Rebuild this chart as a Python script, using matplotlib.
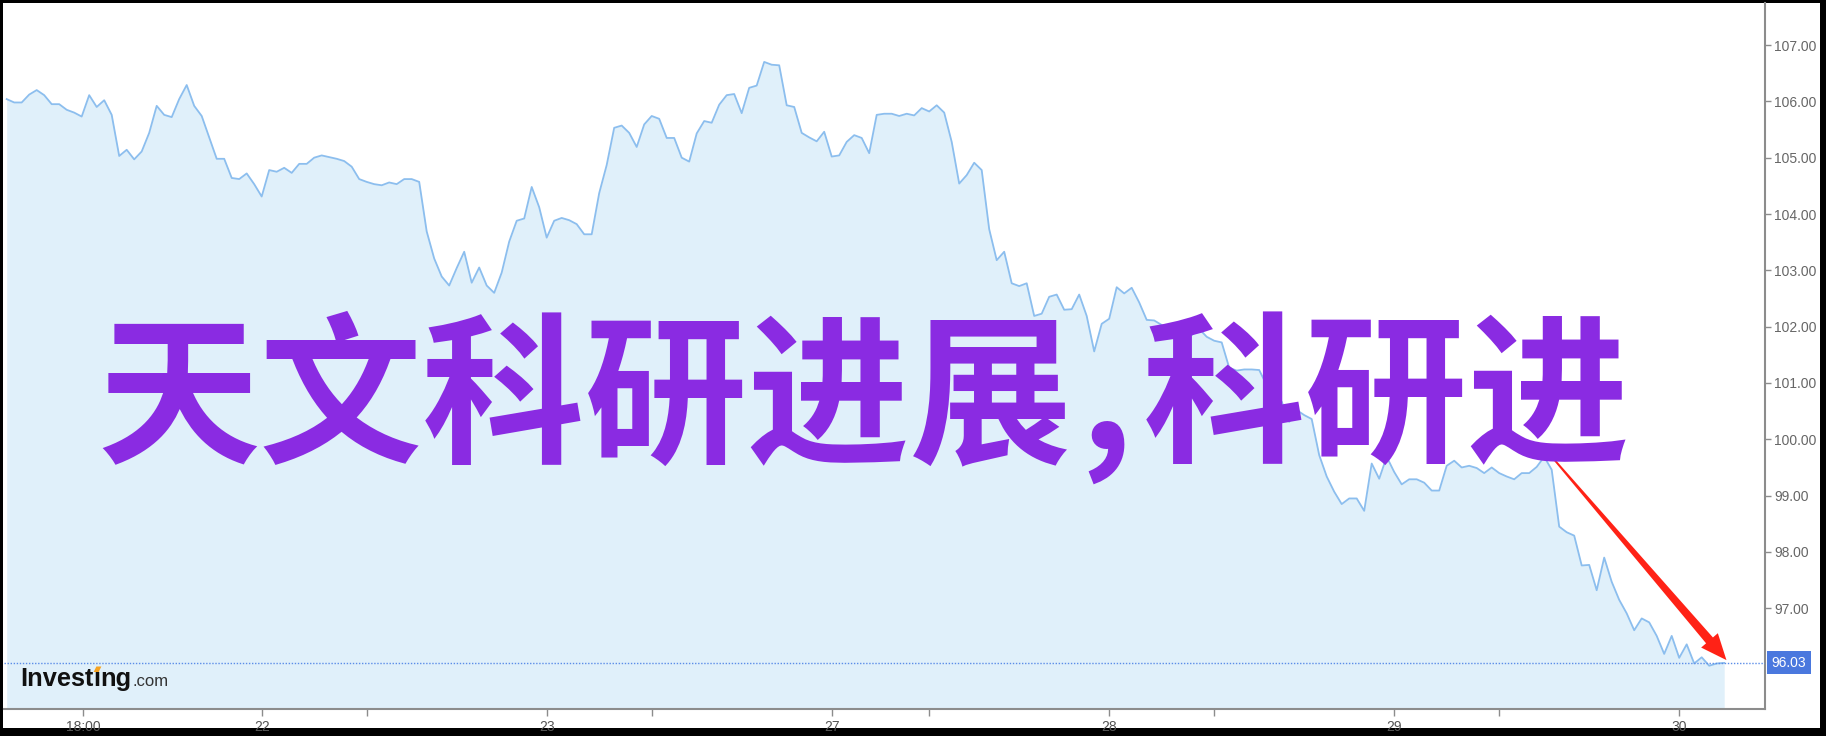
import matplotlib
matplotlib.use("Agg")
import matplotlib.pyplot as plt
import numpy as np
from matplotlib.patches import Rectangle, Polygon
from matplotlib.transforms import blended_transform_factory, IdentityTransform

# ---------------- data ----------------
prices = [
    106.04, 105.98, 105.98, 106.12, 106.20, 106.11, 105.95, 105.95, 105.85, 105.80,
    105.73, 106.11, 105.90, 106.02, 105.76, 105.03, 105.14, 104.97, 105.11, 105.44,
    105.92, 105.76, 105.72, 106.04, 106.29, 105.92, 105.74, 105.36, 104.98, 104.98,
    104.64, 104.62, 104.72, 104.53, 104.31, 104.78, 104.75, 104.82, 104.73, 104.89,
    104.89, 105.00, 105.04, 105.01, 104.98, 104.94, 104.84, 104.62, 104.57, 104.53,
    104.51, 104.56, 104.53, 104.62, 104.62, 104.57, 103.69, 103.21, 102.89, 102.73,
    103.04, 103.33, 102.78, 103.05, 102.73, 102.60, 102.96, 103.51, 103.88, 103.92,
    104.48, 104.12, 103.58, 103.88, 103.93, 103.89, 103.82, 103.64, 103.64, 104.37,
    104.87, 105.53, 105.57, 105.44, 105.19, 105.59, 105.74, 105.69, 105.35, 105.35,
    105.00, 104.93, 105.43, 105.65, 105.62, 105.94, 106.11, 106.13, 105.79, 106.24,
    106.28, 106.70, 106.65, 106.64, 105.93, 105.90, 105.44, 105.36, 105.29, 105.46,
    105.02, 105.04, 105.28, 105.40, 105.35, 105.08, 105.76, 105.78, 105.78, 105.74,
    105.78, 105.75, 105.88, 105.82, 105.93, 105.80, 105.28, 104.54, 104.69, 104.91,
    104.78, 103.73, 103.18, 103.33, 102.77, 102.72, 102.77, 102.19, 102.23, 102.53,
    102.57, 102.30, 102.31, 102.57, 102.19, 101.56, 102.05, 102.14, 102.70, 102.59,
    102.69, 102.43, 102.12, 102.11, 102.03, 101.94, 101.87, 101.82, 101.85, 101.96,
    101.82, 101.75, 101.72, 101.27, 101.22, 101.24, 101.24, 101.23, 100.96, 100.76,
    100.67, 100.31, 100.52, 100.43, 100.36, 99.72, 99.34, 99.07, 98.85, 98.95,
    98.95, 98.73, 99.57, 99.30, 99.69, 99.42, 99.20, 99.29, 99.29, 99.23,
    99.09, 99.09, 99.53, 99.62, 99.50, 99.53, 99.49, 99.40, 99.50, 99.40,
    99.34, 99.29, 99.40, 99.40, 99.51, 99.69, 99.46, 98.45, 98.35, 98.29,
    97.76, 97.77, 97.32, 97.90, 97.47, 97.15, 96.91, 96.61, 96.82, 96.75,
    96.51, 96.19, 96.51, 96.12, 96.36, 96.02, 96.13, 95.98, 96.02, 96.03,
]
x_tick_pos = [10.2, 34, 72, 110, 147, 185, 223]
x_tick_labels = ["18:00", "22", "23", "27", "28", "29", "30"]
x_minor_pos = [48, 86, 123, 161, 199]
y_ticks = [97, 98, 99, 100, 101, 102, 103, 104, 105, 106, 107]
last_price = 96.03
arrow_start = (206.2, 99.66)
arrow_end = (229.3, 96.08)
title_left = "天文科研进展"
title_comma = ","
title_right = "科研进"

# ---------------- figure ----------------
W, H = 1826, 736
fig = plt.figure(figsize=(W / 100, H / 100), dpi=100, facecolor="black")
fig.patches.append(Rectangle((3 / W, 8 / H), (1820 - 3) / W, (733 - 8) / H,
                             transform=fig.transFigure, facecolor="white",
                             edgecolor="none", zorder=-10))

ax = fig.add_axes([4 / W, (H - 709) / H, (1765 - 4) / W, (709 - 3) / H])
ax.set_zorder(1)
ax.set_facecolor("white")
x = np.arange(len(prices))
ax.set_xlim(-0.36, 234.44)
ax.set_ylim(95.212, 107.746)
ymin = ax.get_ylim()[0]

ax.fill_between(x, prices, ymin, color="#e0f0fa", lw=0, zorder=1)
ax.plot(x, prices, color="#8cbeee", lw=1.3, zorder=2)
ax.axhline(last_price, color="#5b8de8", lw=1.0, ls=(0, (1, 1.2)), zorder=3)

for s in ("top", "left"):
    ax.spines[s].set_visible(False)
for s in ("right", "bottom"):
    ax.spines[s].set_color("#8c8c8c")
    ax.spines[s].set_linewidth(1.5)

ax.yaxis.tick_right()
ax.set_yticks(y_ticks, [f"{v:.2f}" for v in y_ticks])
ax.tick_params(axis="y", direction="out", length=4, width=1, color="#8c8c8c",
               labelsize=10, labelcolor="#666666", pad=2.5)
ax.set_xticks(x_tick_pos, x_tick_labels)
ax.set_xticks(x_minor_pos, minor=True)
ax.tick_params(axis="x", which="both", direction="out", length=5, width=1,
               color="#8c8c8c", labelsize=10, labelcolor="#555555", pad=3)
for lab in ax.get_xticklabels() + ax.get_yticklabels():
    lab.set_fontfamily("Liberation Sans")

# current price box
trans = blended_transform_factory(ax.transAxes, ax.transData)
ax.annotate(f"{last_price:.2f}", xy=(1.0, last_price), xycoords=trans,
            xytext=(6.5, 0), textcoords="offset pixels", ha="left", va="center",
            fontsize=10, family="Liberation Sans", color="white",
            bbox=dict(boxstyle="square,pad=0.32", fc="#4a78de", ec="none"),
            annotation_clip=False, zorder=5)

# red tapered arrow
p0 = ax.transData.transform(arrow_start)
p1 = ax.transData.transform(arrow_end)
d = (p1 - p0) / np.hypot(*(p1 - p0))
n = np.array([-d[1], d[0]])
head_len, head_w, w0, w1 = 26, 22, 1.8, 9.0
base = p1 - d * head_len
pts = [p0 + n * w0 / 2, base + n * w1 / 2, base + n * head_w / 2, p1,
       base - n * head_w / 2, base - n * w1 / 2, p0 - n * w0 / 2]
fig.patches.append(Polygon(pts, closed=True, transform=IdentityTransform(),
                           facecolor="#ff2216", edgecolor="none", zorder=6))

# Investing.com logo
renderer = fig.canvas.get_renderer()
bl = 1 - 686 / H
lx = 20 / W
kw = dict(family="Liberation Sans", fontsize=18.3, fontweight="bold",
          color="#111111", va="baseline", ha="left", zorder=7)
t1 = fig.text(lx, bl, "Invest", **kw)
b1 = t1.get_window_extent(renderer)
t2 = fig.text(b1.x1 / W, bl, "\u0131", **kw)
b2 = t2.get_window_extent(renderer)
t3 = fig.text(b2.x1 / W, bl, "ng", **kw)
b3 = t3.get_window_extent(renderer)
fig.text(b3.x1 / W + 0.5 / W, bl, ".com", family="Liberation Sans", fontsize=12,
         color="#333333", va="baseline", ha="left", zorder=7)
cx = (b2.x0 + b2.x1) / 2
by = bl * H
dot = [(cx - 3.2, by + 14), (cx + 1.8, by + 14), (cx + 4.5, by + 19.5), (cx - 0.5, by + 19.5)]
fig.patches.append(Polygon(dot, closed=True, transform=IdentityTransform(),
                           facecolor="#f5a220", edgecolor="none", zorder=8))

# overlay title
tkw = dict(fontsize=117, family=["Noto Sans CJK SC", "DejaVu Sans"], fontweight="bold",
           color="#8a2be2", va="baseline", zorder=10)
ty = 1 - 450 / H
fig.text(97 / W, ty, title_left, ha="left", **tkw)
fig.text(1106 / W, ty, title_comma, ha="center", **tkw)
fig.text(1630 / W, ty, title_right, ha="right", **tkw)

fig.savefig("out.png", dpi=100, facecolor=fig.get_facecolor())
